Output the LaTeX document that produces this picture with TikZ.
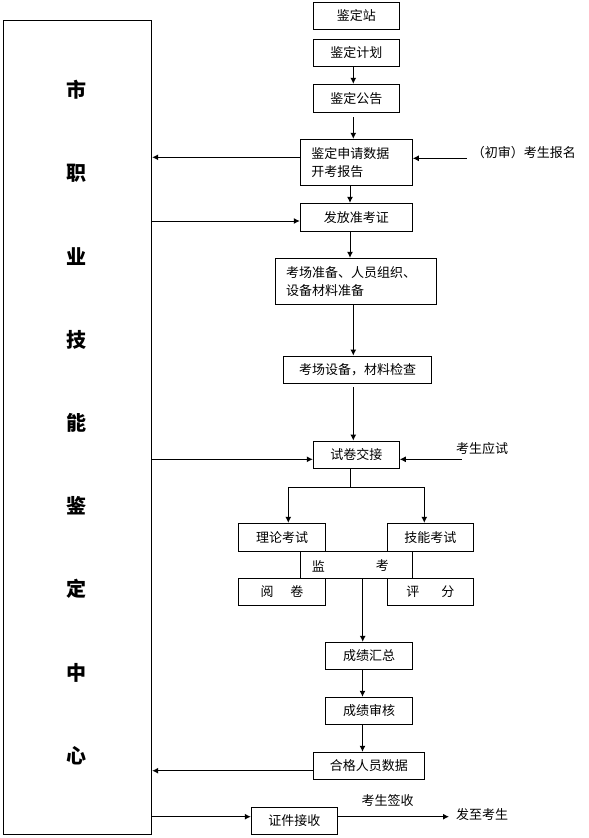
\documentclass[tikz,border=0pt]{standalone}
\usepackage{fontspec}
\setmainfont{Noto Sans CJK SC}
\usetikzlibrary{arrows.meta}
\newcommand\smalltxt{\fontsize{13}{18}\selectfont}
\newcommand\bigtxt{\fontsize{20}{20}\selectfont\bfseries}
\begin{document}
\begin{tikzpicture}[x=1pt,y=-1pt,
  box/.style={draw, line width=1pt, inner sep=0pt, font=\smalltxt},
  tbox/.style={draw, line width=1pt, inner ysep=0pt, inner xsep=11pt, align=left, font=\smalltxt},
  arr/.style={line width=1pt, -{Latex[length=6pt,width=6pt]}},
  ln/.style={line width=1pt},
  lbl/.style={inner sep=0pt, font=\smalltxt},
  big/.style={inner sep=0pt, font=\bigtxt}]
\useasboundingbox (0,0) rectangle (589,838);

% left column box
\node[draw, line width=1pt, inner sep=0pt, minimum width=148.4, minimum height=814] (lb) at (77.5,427.3) {};
\foreach \ch [count=\i] in {市,职,业,技,能,鉴,定,中,心}
  \node[big] (c\i) at (76.7,{90+83.2*(\i-1)}) {\ch};

% main flow boxes
\node[box, minimum width=86, minimum height=27] (zdz) at (356.3,15.8) {鉴定站};
\node[box, minimum width=86, minimum height=27] (jh) at (356.3,52.8) {鉴定计划\hspace{10pt}};
\node[box, minimum width=86, minimum height=28] (gg) at (356.3,98.3) {鉴定公告};
\node[tbox, text width=90, minimum height=46] (sq) at (356.3,162.3) {鉴定申请数据\\开考报告};
\node[box, minimum width=112, minimum height=27.7] (zkz) at (356.3,217.2) {发放准考证};
\node[tbox, inner xsep=10.7pt, text width=139.6, minimum height=46] (kczb) at (355.8,281.3) {考场准备、人员组织、\\设备材料准备};
\node[box, minimum width=148.4, minimum height=27.3] (jc) at (357.5,369.7) {考场设备，材料检查};
\node[box, minimum width=86, minimum height=27.3] (sj) at (356.3,454.7) {试卷交接};
\node[box, minimum width=87.4, minimum height=28] (ll) at (282,537.3) {理论考试};
\node[box, minimum width=86, minimum height=28] (jn) at (430.3,537.3) {技能考试};
\node[box, minimum width=112, minimum height=27] (jk) at (356.3,564.8) {};
\node[lbl] (jk1) at (318.3,566) {监};
\node[lbl] (jk2) at (382.3,566) {考};
\node[box, minimum width=87.4, minimum height=27] (yj) at (282,591.8) {阅\hspace{17pt}卷};
\node[box, minimum width=86, minimum height=27] (pf) at (430.3,591.8) {评\hspace{22pt}分};
\node[box, minimum width=86.6, minimum height=27] (hz) at (369,655.8) {成绩汇总};
\node[box, minimum width=86.6, minimum height=27] (sh) at (369,710.8) {成绩审核};
\node[box, minimum width=111, minimum height=27] (hg) at (368.8,765.8) {合格人员数据};
\node[box, minimum width=86, minimum height=26.7] (zj) at (294.3,820.7) {证件接收};

% side labels
\node[lbl, anchor=west] (reg) at (471.7,153) {（初审）考生报名};
\node[lbl, anchor=west] (ks) at (456,448.3) {考生应试};
\node[lbl] (qs) at (387.5,801) {考生签收};
\node[lbl, anchor=west] (fz) at (456,815) {发至考生};
\coordinate (regs) at (466.7,158.3);
\coordinate (kss) at (461.7,459.3);
\coordinate (fe) at (449,816.7);
\coordinate (br) at (350.3,487);

% connectors
\draw[arr] (jh.south -| 353.3,0) -- (gg.north -| 353.3,0);
\draw[arr, shorten <=4.4pt] (gg.south -| 353.3,0) -- (sq.north -| 353.3,0);
\draw[arr] (sq.west |- 0,157.3) -- (lb.east |- 0,157.3);
\draw[arr] (regs) -- (sq.east |- regs);
\draw[arr] (sq.south -| 350,0) -- (zkz.north -| 350,0);
\draw[arr] (lb.east |- 0,221) -- (zkz.west |- 0,221);
\draw[arr] (zkz.south -| 350,0) -- (kczb.north -| 350,0);
\draw[arr] (kczb.south -| 353.3,0) -- (jc.north -| 353.3,0);
\draw[arr, shorten <=3.4pt] (jc.south -| 353.3,0) -- (sj.north -| 353.3,0);
\draw[arr] (lb.east |- 0,459.3) -- (sj.west |- 0,459.3);
\draw[arr] (kss) -- (sj.east |- kss);
\draw[ln] (sj.south -| br) -- (br);
\draw[arr] (br) -| (ll.north -| 288.3,0);
\draw[arr] (br) -| (jn.north -| 424.3,0);
\draw[arr] (jk.south -| 362.7,0) -- (hz.north -| 362.7,0);
\draw[arr] (hz.south -| 362.5,0) -- (sh.north -| 362.5,0);
\draw[arr] (sh.south -| 362.5,0) -- (hg.north -| 362.5,0);
\draw[arr] (hg.west |- 0,770.7) -- (lb.east |- 0,770.7);
\draw[arr] (lb.east |- 0,816.7) -- (zj.west |- 0,816.7);
\draw[arr] (zj.east |- fe) -- (fe);
\end{tikzpicture}
\end{document}
